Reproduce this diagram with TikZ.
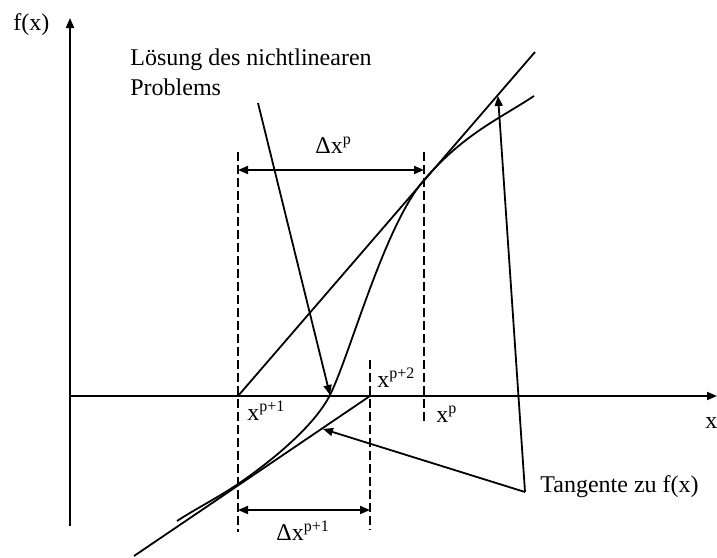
\documentclass[tikz,border=0pt]{standalone}
\usepackage{fontspec}
\setmainfont{Liberation Serif}
\usetikzlibrary{arrows.meta}

\begin{document}
\begin{tikzpicture}[
  x=0.5pt, y=-0.5pt,
  every node/.style={font=\fontsize{12}{15}\selectfont,inner sep=0pt},
  tip/.style={-{Triangle[length=5pt,width=4pt]}},
  axis/.style={tip,line width=0.9pt},
  arr/.style={tip,line width=0.9pt},
  dim/.style={{Triangle[length=5pt,width=4pt]}-{Triangle[length=5pt,width=4pt]},line width=0.9pt},
  guide/.style={dash pattern=on 4.5pt off 2pt,line width=0.7pt},
  fcurve/.style={line width=0.9pt},
  lbl/.style={anchor=base west}
]
\useasboundingbox (0,0) rectangle (717,557);

% axes
\coordinate (ybot) at (70,526);
\coordinate (ytop) at (70,18);
\coordinate (O) at (70,396);
\coordinate (xend) at (717,396);
\draw[axis] (ybot) -- (ytop);
\draw[axis] (O) -- (xend);
\node[lbl] (fx) at (13,31) {f(x)};
\node[lbl] (xlab) at (705,428) {x};

% iterates on the axis
\coordinate (xp1) at (238,396);
\coordinate (xp2) at (370,396);
\coordinate (xp) at (424,396);

% dashed guides
\coordinate (g1top) at (238,152);
\coordinate (g1bot) at (238,532);
\coordinate (g2top) at (370,360);
\coordinate (g2bot) at (370,530);
\coordinate (g3top) at (424,152);
\coordinate (g3bot) at (424,423);
\draw[guide] (g1top) -- (g1bot);
\draw[guide] (g2top) -- (g2bot);
\draw[guide] (g3top) -- (g3bot);

% step widths
\coordinate (d1a) at (238,170);
\coordinate (d1b) at (424,170);
\coordinate (d2a) at (238,510);
\coordinate (d2b) at (370,510);
\draw[dim] (d1a) -- (d1b);
\draw[dim] (d2a) -- (d2b);
\node[lbl] (dxp) at (315,153) {Δx\textsuperscript{p}};
\node[lbl] (dxp1) at (276,540) {Δx\textsuperscript{p+1}};

\node[lbl] (lxp1) at (247,420) {x\textsuperscript{p+1}};
\node[lbl] (lxp2) at (377,387) {x\textsuperscript{p+2}};
\node[lbl] (lxp) at (436,422) {x\textsuperscript{p}};

% f(x)
\coordinate (root) at (330,395);
\coordinate (touch1) at (424,180);
\coordinate (touch2) at (238,484);
\draw[fcurve] (177,521) .. controls (197,508) and (218,497.6) .. (touch2)
  .. controls (273,460.2) and (315,425) .. (root)
  .. controls (350,355) and (384,226.3) .. (touch1)
  .. controls (464,133.7) and (499,119.1) .. (534,96);

% tangents
\coordinate (t1end) at (535,52);
\coordinate (t2beg) at (134,556);
\draw[fcurve] (xp1) -- (t1end);
\draw[fcurve] (t2beg) -- (xp2);

% annotations
\node[lbl,align=left] (loes) at (130,95) {Lösung des nichtlinearen\\Problems};
\coordinate (loesStart) at (258,103);
\draw[arr] (loesStart) -- (root);

\node[lbl] (tang) at (540,492) {Tangente zu f(x)};
\coordinate (tanStart) at (525,492);
\coordinate (onT1) at (498,96);
\coordinate (onT2) at (323,429);
\draw[arr] (tanStart) -- (onT1);
\draw[arr] (tanStart) -- (onT2);
\end{tikzpicture}
\end{document}
